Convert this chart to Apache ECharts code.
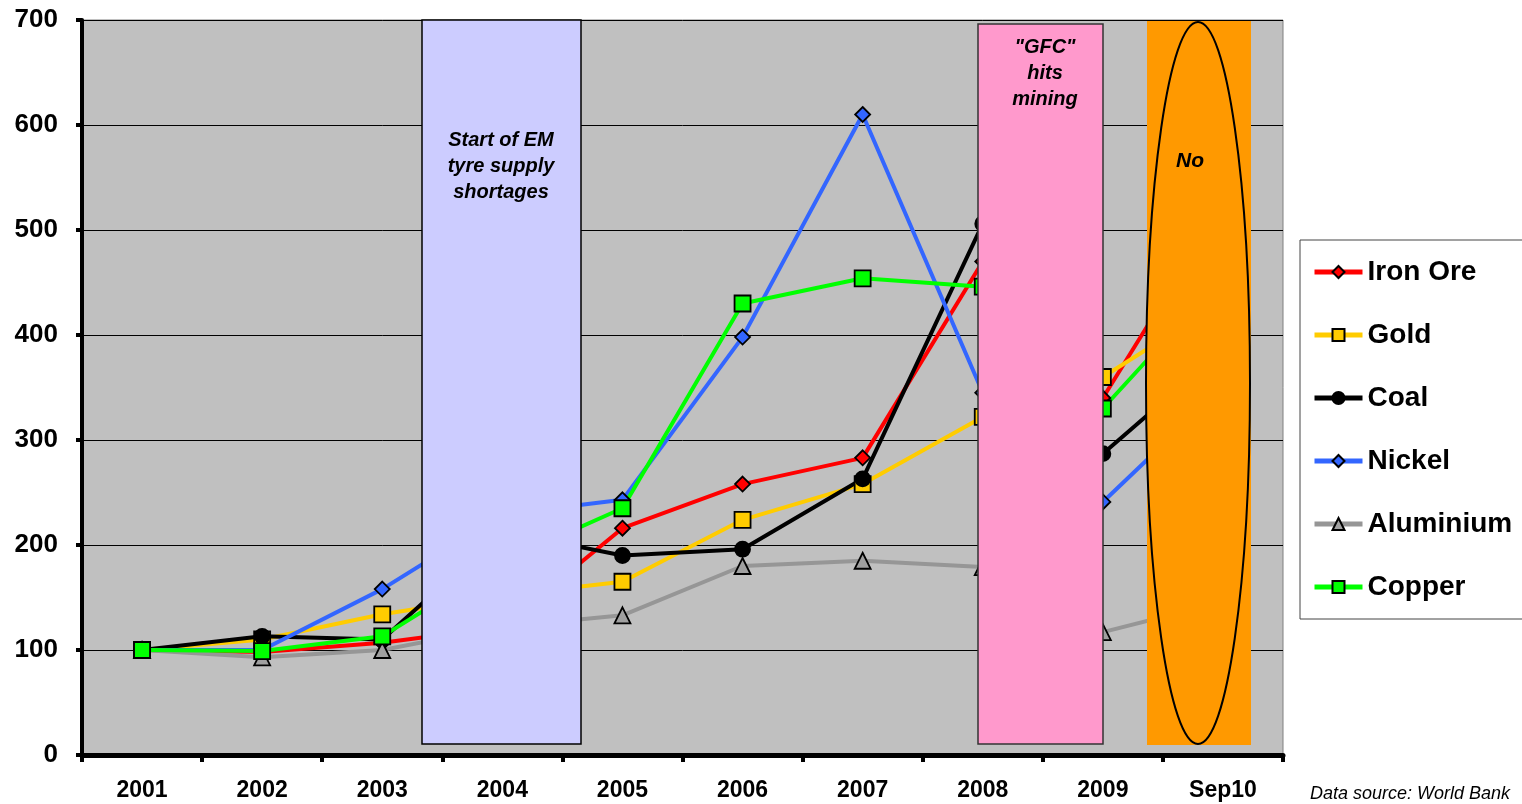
<!DOCTYPE html>
<html>
<head>
<meta charset="utf-8">
<script src="https://cdn.jsdelivr.net/npm/echarts@6/dist/echarts.min.js"></script>
<style>
  html, body { margin: 0; padding: 0; background: #fff; }
  #main { width: 1522px; height: 804px; }
</style>
</head>
<body>
<div id="main"></div>
<script>
var categories = ['2001', '2002', '2003', '2004', '2005', '2006', '2007', '2008', '2009', 'Sep10'];

var ironOre   = [100,  98, 107, 122, 216, 258, 283, 470, 340, 525];
var gold      = [100, 110, 134, 152, 165, 224, 258, 322, 360, 432];
var coal      = [100, 113, 110, 213, 190, 196, 263, 506, 287, 386];
var nickel    = [100, 100, 158, 229, 243, 398, 610, 345, 241, 350];
var aluminium = [100,  93, 100, 122, 133, 180, 185, 179, 117, 146];
var copper    = [100,  99, 113, 184, 235, 430, 454, 446, 330, 455];

var yTicks = [0, 100, 200, 300, 400, 500, 600, 700];

var FONT = 'Arial, "Liberation Sans", sans-serif';

function line(name, data, color, symbol, size, fill) {
  return {
    name: name,
    type: 'line',
    data: data,
    symbol: symbol,
    symbolSize: size,
    lineStyle: { color: color, width: 4 },
    itemStyle: { color: fill || color, borderColor: '#000', borderWidth: 1.8 },
    emphasis: { disabled: true },
    animation: false
  };
}

var myChart = echarts.init(document.getElementById('main'));
myChart.setOption({
  backgroundColor: '#fff',
  animation: false,
  grid: {
    left: 82, right: 239, top: 20, bottom: 49,
    show: true, backgroundColor: '#C0C0C0', borderColor: '#808080', borderWidth: 1
  },
  legend: {
    orient: 'vertical',
    left: 1300, top: 240,
    padding: [18, 12],
    itemGap: 35,
    itemWidth: 48, itemHeight: 15,
    backgroundColor: '#fff',
    borderColor: '#444', borderWidth: 1,
    lineStyle: { width: 5 },
    textStyle: { fontFamily: FONT, fontSize: 28, fontWeight: 'bold', color: '#000' },
    data: ['Iron Ore', 'Gold', 'Coal', 'Nickel', 'Aluminium', 'Copper']
  },
  xAxis: {
    type: 'category',
    data: categories,
    boundaryGap: true,
    axisLine: { lineStyle: { color: '#000', width: 5 } },
    axisTick: { show: true, length: 7, lineStyle: { color: '#000', width: 4 } },
    axisLabel: { margin: 24, fontFamily: FONT, fontSize: 23, fontWeight: 'bold', color: '#000' },
    splitLine: { show: false }
  },
  yAxis: {
    type: 'value',
    min: yTicks[0], max: yTicks[yTicks.length - 1], interval: 100,
    axisLine: { show: true, lineStyle: { color: '#000', width: 4 } },
    axisTick: { show: true, length: 6, lineStyle: { color: '#000', width: 4 } },
    axisLabel: { margin: 24, fontFamily: FONT, fontSize: 26, fontWeight: 'bold', color: '#000' },
    splitLine: { lineStyle: { color: '#000', width: 1 } }
  },
  series: [
    line('Iron Ore', ironOre, '#FF0000', 'diamond', 15),
    line('Gold', gold, '#FFCC00', 'rect', 16),
    line('Coal', coal, '#000000', 'circle', 15),
    line('Nickel', nickel, '#3366FF', 'diamond', 15),
    line('Aluminium', aluminium, '#969696', 'triangle', 16, '#A0A0A0'),
    line('Copper', copper, '#00FF00', 'rect', 16)
  ],
  graphic: [
    { type: 'rect', z: 100, shape: { x: 422, y: 20, width: 159, height: 724 },
      style: { fill: '#CCCCFF', stroke: '#000', lineWidth: 1.5 } },
    { type: 'text', z: 101,
      style: { text: 'Start of EM\ntyre supply\nshortages', x: 501, y: 127, textAlign: 'center',
               font: 'italic bold 20px ' + FONT, lineHeight: 26, fill: '#000' } },
    { type: 'rect', z: 100, shape: { x: 978, y: 24, width: 125, height: 720 },
      style: { fill: '#FF99CC', stroke: '#333', lineWidth: 1.5 } },
    { type: 'text', z: 101,
      style: { text: '"GFC"\nhits\nmining', x: 1045, y: 34, textAlign: 'center',
               font: 'italic bold 20px ' + FONT, lineHeight: 26, fill: '#000' } },
    { type: 'rect', z: 100, shape: { x: 1147, y: 21, width: 104, height: 724 },
      style: { fill: '#FF9900' } },
    { type: 'ellipse', z: 101, shape: { cx: 1198, cy: 383, rx: 52, ry: 361 },
      style: { fill: '#FF9900', stroke: '#000', lineWidth: 2 } },
    { type: 'text', z: 102,
      style: { text: 'No', x: 1190, y: 151, textAlign: 'center',
               font: 'italic bold 21px ' + FONT, fill: '#000' } },
    { type: 'text', z: 102,
      style: { text: 'Data source: World Bank', x: 1310, y: 785,
               font: 'italic 18px ' + FONT, fill: '#000' } }
  ]
});
</script>
</body>
</html>
